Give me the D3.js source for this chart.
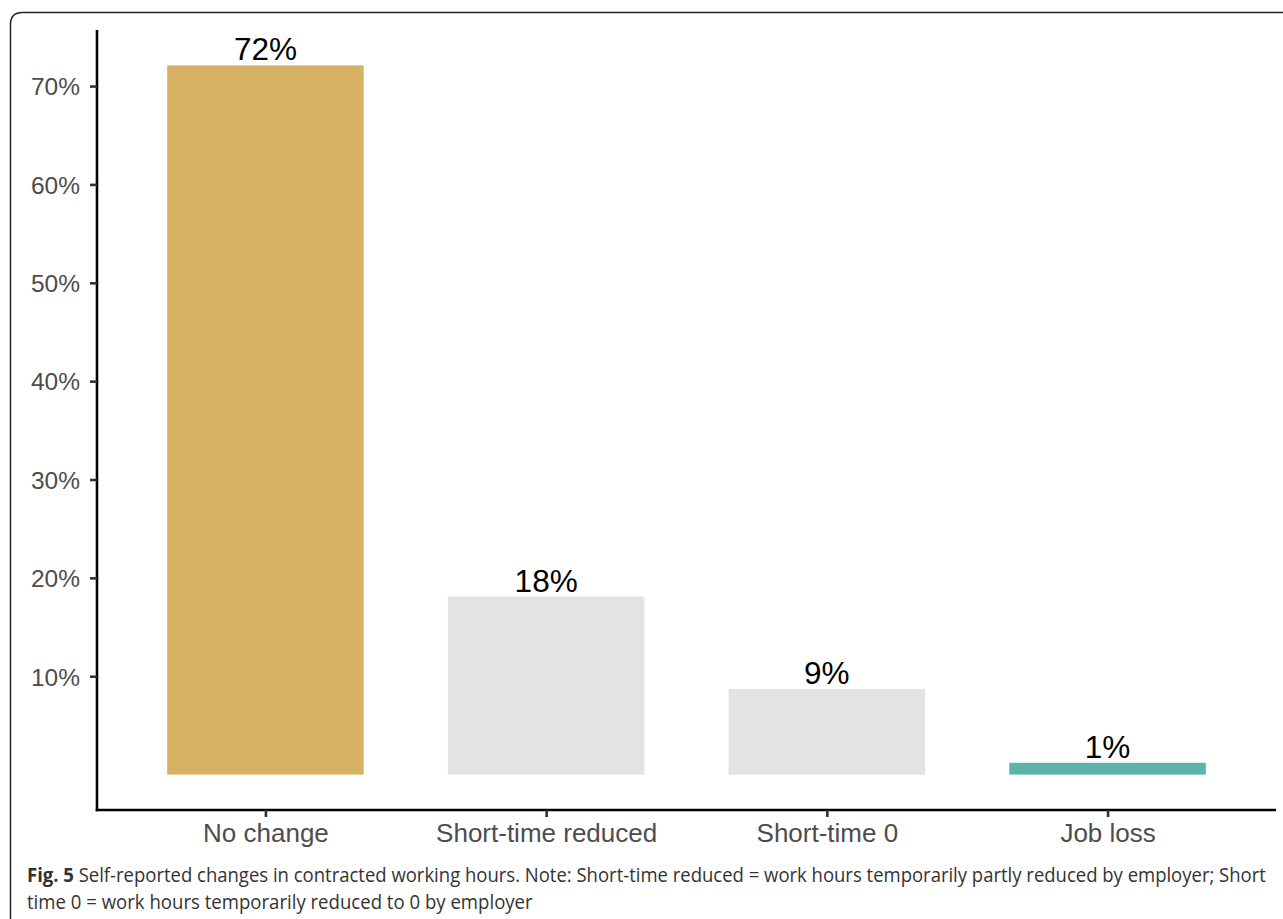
<!DOCTYPE html>
<html><head><meta charset="utf-8">
<script src="https://cdn.jsdelivr.net/npm/d3@7"></script>
<style>html,body{margin:0;padding:0;background:#fff;} svg{display:block;}</style>
</head><body>
<svg id="c" width="1283" height="919"></svg>
<script>
const categories = ["No change", "Short-time reduced", "Short-time 0", "Job loss"];
const values = [72.1, 18.1, 8.7, 1.2];
const valueLabels = ["72%", "18%", "9%", "1%"];
const barColors = ["#D8B264", "#E3E3E3", "#E3E3E3", "#5BB4AA"];
const yTicks = [10, 20, 30, 40, 50, 60, 70];
const captionBold = "Fig. 5";
const captionLine1 = " Self-reported changes in contracted working hours. Note: Short-time reduced = work hours temporarily partly reduced by employer; Short";
const captionLine2 = "time 0 = work hours temporarily reduced to 0 by employer";

const svg = d3.select("#c");
// frame
svg.append("path")
  .attr("d", "M10.5,930 L10.5,24.5 Q10.5,12.5 22.5,12.5 L1300,12.5")
  .attr("fill","none").attr("stroke","#222").attr("stroke-width",1.5);

const xLeft = 97, xRight = 1276, yTop = 30, yBottom = 810;
const y = d3.scaleLinear().domain([-3.6, 75.7]).range([yBottom, yTop]);
// ggplot-like discrete expansion: 0.6 units each side, bar width 0.7
const step = (xRight - xLeft) / 4.2;
const x = d3.scaleBand().domain(categories)
  .range([xLeft + step * 0.6 - step / 2, xRight - step * 0.6 + step / 2])
  .paddingInner(0.3).paddingOuter(0.15);
const cx = d => x(d) + x.bandwidth() / 2;
const bw = x.bandwidth();

const g = svg.append("g");
g.selectAll("rect.bar").data(categories).enter().append("rect")
  .attr("x", d => x(d))
  .attr("width", bw)
  .attr("y", (d,i) => y(values[i]))
  .attr("height", (d,i) => y(0) - y(values[i]))
  .attr("fill", (d,i) => barColors[i]);

g.selectAll("text.vl").data(categories).enter().append("text")
  .attr("x", d => cx(d))
  .attr("y", (d,i) => y(values[i]) - 5)
  .attr("text-anchor","middle")
  .attr("font-family","Liberation Sans, Arial, sans-serif")
  .attr("font-size", 31.5).attr("fill","#000")
  .text((d,i) => valueLabels[i]);

// y axis
const yAxis = d3.axisLeft(y).tickValues(yTicks).tickFormat(d => d + "%").tickSize(7).tickSizeOuter(0).tickPadding(10);
const ya = svg.append("g").attr("transform", `translate(${xLeft},0)`).call(yAxis);
ya.select(".domain").attr("stroke","#000").attr("stroke-width",2.6).attr("d", `M0,${yTop}V${yBottom + 1.3}`);
ya.selectAll(".tick line").attr("stroke","#333").attr("stroke-width",2.6);
ya.selectAll(".tick text").attr("font-family","Liberation Sans, Arial, sans-serif").attr("font-size",24.5).attr("fill","#4D4D4D").attr("dy","0.36em");

// x axis
const xs = d3.scalePoint().domain(categories).range([cx(categories[0]), cx(categories[3])]);
const xAxis = d3.axisBottom(xs).tickSize(7).tickSizeOuter(0).tickPadding(7);
const xa = svg.append("g").attr("transform", `translate(0,${yBottom})`).call(xAxis);
xa.select(".domain").attr("stroke","#000").attr("stroke-width",2.6).attr("d", `M${xLeft - 1.3},0H${xRight}`);
xa.selectAll(".tick line").attr("stroke","#333").attr("stroke-width",2.6);
xa.selectAll(".tick text").attr("font-family","Liberation Sans, Arial, sans-serif").attr("font-size",26).attr("fill","#4D4D4D");

// caption: natural rendering, then horizontally scaled to the reference width
function fitLine(sel, x0, targetW) {
  const w = sel.node().getComputedTextLength();
  const s = targetW / w;
  sel.attr("transform", `translate(${x0},0) scale(${s},1)`);
}
const cap1 = svg.append("text").attr("x", 0).attr("y", 882)
  .attr("font-family","Open Sans, Noto Sans, sans-serif").attr("font-size",20).attr("fill","#333");
cap1.append("tspan").attr("font-weight","bold").text(captionBold);
cap1.append("tspan").text(captionLine1);
fitLine(cap1, 27, 1240);
const cap2 = svg.append("text").attr("x", 0).attr("y", 909)
  .attr("font-family","Open Sans, Noto Sans, sans-serif").attr("font-size",20).attr("fill","#333")
  .text(captionLine2);
fitLine(cap2, 27, 506);
</script>
</body></html>
